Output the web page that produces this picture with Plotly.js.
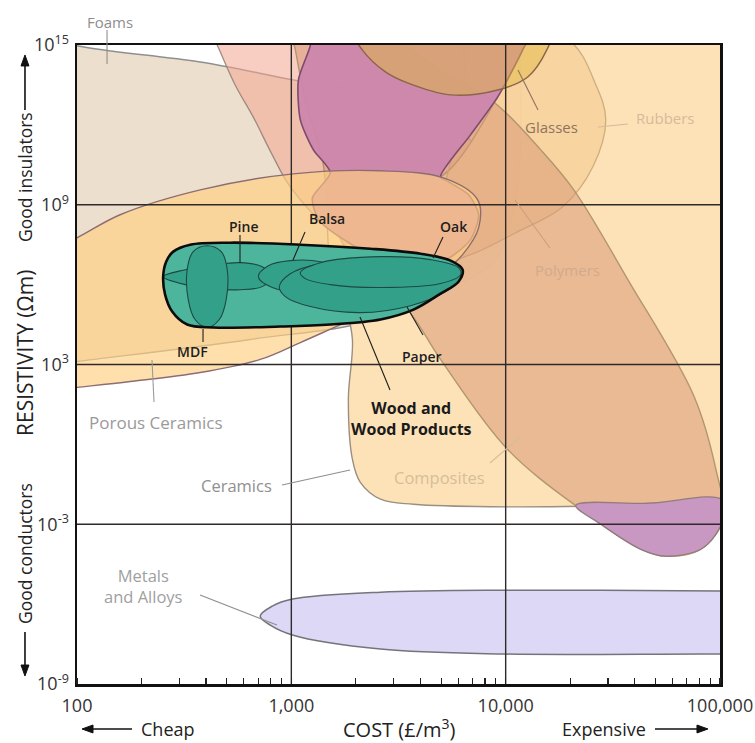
<!DOCTYPE html>
<html><head><meta charset="utf-8">
<script src="https://cdn.plot.ly/plotly-3.0.1.min.js"></script>
<style>html,body{margin:0;padding:0;background:#fff}#chart{width:755px;height:743px}</style>
</head><body><div id="chart"></div>
<script>
// ---- axis ticks ----
const xTickVals = [100, 1000, 10000, 100000];
const xTickText = ['100', '1,000', '10,000', '100,000'];
const yTickVals = [1e-9, 1e-3, 1e3, 1e9, 1e15];
const yTickText = ['10<sup>-9</sup>', '10<sup>-3</sup>', '10<sup>3</sup>', '10<sup>9</sup>', '10<sup>15</sup>'];
const xGridVals = [1000, 10000];
const yGridVals = [1e-3, 1e3, 1e9];

// ---- material envelopes: outline points as log10(cost) and log10(resistivity) ----
const foamsLogCost = [1.827, 2.005, 2.575, 3.009, 3.509, 3.804, 3.930, 3.963, 3.836, 3.416, 2.808, 2.000, 1.827, 1.734];
const foamsLogRes  = [15.375, 14.96, 14.36, 13.69, 12.94, 11.70, 9.94, 8.175, 6.64, 4.76, 3.94, 3.11, 2.925, 9.19];

const pinkLogCost = [2.598, 2.654, 2.738, 2.822, 2.911, 2.995, 3.196, 3.463, 3.743, 3.953, 4.047, 4.070, 4.047, 3.977];
const pinkLogRes  = [15.94, 15.0, 13.5, 12.3, 10.875, 9.675, 7.95, 6.64, 6.0, 6.94, 9.19, 11.81, 15.19, 15.94];

const ceramicsLogCost = [4.093, 4.070, 3.963, 3.696, 3.509, 3.206, 3.173, 3.182, 3.252, 3.285, 3.266, 3.285, 3.322, 3.416, 3.570, 4.350, 5.005, 5.192, 5.192];
const ceramicsLogRes  = [15.94, 14.81, 13.05, 10.05, 9.94, 9.56, 8.625, 6.94, 5.25, 3.94, 1.69, -0.56, -1.425, -2.06, -2.25, -2.325, -2.06, -2.06, 15.94];

const rubbersLogCost = [3.836, 4.290, 4.421, 4.467, 4.407, 4.266, 4.047, 3.836, 3.696, 3.659, 3.734, 3.813];
const rubbersLogRes  = [15.56, 15.19, 13.5, 12.19, 10.425, 8.925, 7.95, 7.125, 6.86, 7.875, 10.31, 12.94];

const polymersLogCost = [2.995, 3.463, 3.696, 3.944, 4.164, 4.318, 4.570, 4.879, 4.981, 5.014, 4.911, 4.748, 4.631, 4.350, 4.009, 3.696, 3.542, 3.322, 3.182, 3.145, 3.065, 3.019];
const polymersLogRes  = [15.94, 15.26, 14.06, 12.86, 11.06, 9.56, 6.19, 1.8, -0.94, -2.81, -3.94, -4.2, -3.94, -2.44, -0.19, 3.19, 5.06, 6.56, 8.625, 10.69, 12.94, 14.81];

const polyLowLogCost = [4.327, 4.678, 5.005, 5.019, 4.981, 4.911, 4.748, 4.631, 4.444];
const polyLowLogRes  = [-2.29, -2.21, -2.06, -2.625, -3.375, -3.94, -4.2, -3.94, -3.0];

const purpleLogCost = [3.089, 3.089, 3.033, 3.042, 3.103, 3.182, 3.098, 3.126, 3.196, 3.369, 3.509, 3.720, 3.836, 3.874, 3.827, 3.734, 3.696, 3.836, 3.963, 4.079, 4.117];
const purpleLogRes  = [15.56, 15.0, 13.69, 12.19, 11.06, 10.2, 9.26, 8.44, 7.95, 7.125, 6.86, 6.94, 7.69, 8.625, 9.375, 9.86, 10.05, 11.625, 13.05, 14.81, 15.56];

const glassesLogCost = [3.285, 3.332, 3.439, 3.542, 3.743, 3.963, 4.103, 4.187, 4.210, 4.070, 3.743, 3.416];
const glassesLogRes  = [15.56, 14.81, 13.99, 13.575, 13.125, 13.31, 13.8, 14.74, 15.375, 16.31, 16.69, 16.31];

const porousLogCost = [1.827, 2.0, 2.201, 2.575, 3.009, 3.416, 3.710, 3.869, 3.874, 3.799, 3.696, 3.509, 3.262, 3.042, 2.855, 2.575, 2.248, 2.0, 1.827];
const porousLogRes  = [7.125, 7.76, 8.625, 9.56, 10.16, 10.275, 10.01, 9.19, 8.14, 7.125, 6.375, 5.44, 4.61, 3.825, 3.19, 2.70, 2.36, 2.14, 1.99];

const metalsLogCost = [2.855, 2.911, 3.005, 3.416, 4.0, 5.005, 5.192, 5.192, 5.005, 4.0, 3.416, 3.005, 2.902];
const metalsLogRes  = [-6.45, -6.075, -5.81, -5.55, -5.475, -5.51, -5.51, -7.91, -7.875, -7.875, -7.69, -7.16, -6.79];

const woodLogCost = [2.402, 2.416, 2.449, 2.528, 2.715, 3.042, 3.369, 3.603, 3.743, 3.799, 3.780, 3.696, 3.570, 3.416, 3.182, 2.949, 2.636, 2.514, 2.444, 2.411];
const woodLogRes  = [6.3, 6.86, 7.24, 7.5, 7.575, 7.5, 7.35, 7.16, 6.9, 6.56, 6.11, 5.66, 5.06, 4.69, 4.5, 4.425, 4.39, 4.5, 4.99, 5.625];

const pineLogCost = [2.402, 2.505, 2.645, 2.762, 2.864, 2.911, 2.864, 2.762, 2.621, 2.505];
const pineLogRes  = [6.3, 6.56, 6.75, 6.825, 6.675, 6.3, 5.925, 5.81, 5.85, 6.0];

const balsaLogCost = [2.846, 2.893, 2.995, 3.136, 3.229, 3.182, 3.042, 2.911];
const balsaLogRes  = [6.3, 6.71, 6.9, 6.86, 6.56, 6.0, 5.74, 5.89];

const mdfLogCost = [2.607, 2.673, 2.701, 2.696, 2.664, 2.607, 2.551, 2.519, 2.514, 2.542];
const mdfLogRes  = [7.46, 7.24, 6.56, 5.44, 4.69, 4.39, 4.69, 5.44, 6.56, 7.24];

const paperLogCost = [2.944, 2.995, 3.136, 3.369, 3.603, 3.766, 3.790, 3.720, 3.556, 3.322, 3.089, 2.972];
const paperLogRes  = [5.925, 6.41, 6.79, 6.94, 6.86, 6.56, 6.26, 5.74, 5.21, 4.95, 5.175, 5.55];

const oakLogCost = [3.042, 3.136, 3.416, 3.650, 3.780, 3.790, 3.696, 3.416, 3.182, 3.065];
const oakLogRes  = [6.45, 6.825, 7.05, 6.94, 6.64, 6.375, 6.04, 5.89, 6.0, 6.225];

// ---- helpers ----
const FONT = '"Open Sans", "DejaVu Sans", sans-serif';
function region(lc, lr, fill, line, width, smooth) {
  const x = lc.map(u => Math.pow(10, u));
  const y = lr.map(v => Math.pow(10, v));
  x.push(x[0]); y.push(y[0]);
  return {type: 'scatter', mode: 'lines', x: x, y: y,
    fill: fill ? 'toself' : 'none', fillcolor: fill || 'rgba(0,0,0,0)',
    line: {color: line, width: width, shape: 'spline', smoothing: smooth || 1},
    hoverinfo: 'skip', showlegend: false};
}

const traces = [
  region(foamsLogCost, foamsLogRes, '#eddfce', '#8f8f8f', 1.4),
  region(pinkLogCost, pinkLogRes, 'rgba(242,165,145,0.55)', 'rgba(150,130,120,0.9)', 1.3),
  region(ceramicsLogCost, ceramicsLogRes, 'rgba(253,224,180,0.95)', '#9a8f80', 1.4),
  region(rubbersLogCost, rubbersLogRes, 'rgba(240,180,110,0.3)', 'rgba(200,168,120,0.9)', 1.3),
  region(polymersLogCost, polymersLogRes, 'rgba(215,150,115,0.52)', 'rgba(175,148,108,0.95)', 1.4),
  region(polyLowLogCost, polyLowLogRes, '#c898c2', 'rgba(140,120,120,0.9)', 1.3),
  region(purpleLogCost, purpleLogRes, 'rgba(204,134,172,0.96)', '#7e4b6c', 1.6, 0.7),
  region(glassesLogCost, glassesLogRes, 'rgba(225,185,70,0.5)', '#8a6548', 1.4),
  region(porousLogCost, porousLogRes, 'rgba(255,208,130,0.66)', '#8d6d72', 1.4),
  region(metalsLogCost, metalsLogRes, '#dcd8f6', '#74747c', 1.5)
];
// grid lines drawn through the axis scales
xGridVals.forEach(g => traces.push({type: 'scatter', mode: 'lines', x: [g, g], y: [1e-10, 1e16],
  line: {color: '#2f2a28', width: 1.4}, hoverinfo: 'skip', showlegend: false}));
yGridVals.forEach(g => traces.push({type: 'scatter', mode: 'lines', x: [50, 200000], y: [g, g],
  line: {color: '#2f2a28', width: 1.4}, hoverinfo: 'skip', showlegend: false}));
// wood family on top
traces.push(region(woodLogCost, woodLogRes, '#4cb59c', '#111', 0));
traces.push(region(pineLogCost, pineLogRes, '#33a08a', '#1d4a42', 1.1));
traces.push(region(balsaLogCost, balsaLogRes, '#33a08a', '#1d4a42', 1.1));
traces.push(region(mdfLogCost, mdfLogRes, '#33a08a', '#1d4a42', 1.1));
traces.push(region(paperLogCost, paperLogRes, '#33a08a', '#1d4a42', 1.1));
traces.push(region(oakLogCost, oakLogRes, '#33a08a', '#1d4a42', 1.1));
traces.push(region(woodLogCost, woodLogRes, null, '#0c0c0c', 2.6));

// ---- labels (paper coordinates) ----
function lab(text, x, y, color, size, weight) {
  return {text: text, x: x, y: y, xref: 'paper', yref: 'paper', showarrow: false,
    xanchor: 'center', yanchor: 'middle',
    font: {family: FONT, size: size, color: color, weight: weight || 400}};
}
const annotations = [
  lab('Foams', 0.0513, 1.036, '#8e8e8e', 15),
  lab('Glasses', 0.7387, 0.8717, '#8f735e', 15),
  lab('Rubbers', 0.9145, 0.8858, '#d6ba98', 15),
  lab('Polymers', 0.7636, 0.6479, '#d3aa8a', 15),
  lab('Pine', 0.2582, 0.7167, '#1e1e1e', 14, 600),
  lab('Balsa', 0.3888, 0.7277, '#1e1e1e', 14, 600),
  lab('Oak', 0.5848, 0.7152, '#1e1e1e', 14, 600),
  lab('MDF', 0.1804, 0.5211, '#1e1e1e', 14, 600),
  lab('Paper', 0.5365, 0.5133, '#1e1e1e', 14, 600),
  lab('Wood and<br>Wood Products', 0.5195, 0.4155, '#1a1a1a', 16, 700),
  lab('Composites', 0.5645, 0.3224, '#d6be98', 16.5),
  lab('Ceramics', 0.2488, 0.3114, '#8f8f8f', 16.5),
  lab('Porous Ceramics', 0.1229, 0.4100, '#9a9a9a', 17),
  lab('Metals<br>and Alloys', 0.1035, 0.1534, '#a0a0a0', 16.5),
  // axis titles
  Object.assign(lab('RESISTIVITY (Ωm)', -0.0809, 0.5180, '#222', 21), {textangle: -90}),
  Object.assign(lab('Good insulators', -0.0809, 0.7934, '#222', 17.5), {textangle: -90}),
  Object.assign(lab('Good conductors', -0.0809, 0.2050, '#222', 17.5), {textangle: -90}),
  lab('COST (£/m<sup>3</sup>)', 0.5023, -0.0689, '#222', 20),
  lab('Cheap', 0.1415, -0.0704, '#222', 18),
  lab('Expensive', 0.8196, -0.0704, '#222', 18)
];

function leader(x0, y0, x1, y1, color, w) {
  return {type: 'line', xref: 'paper', yref: 'paper', x0: x0, y0: y0, x1: x1, y1: y1,
    line: {color: color, width: w || 1.1}, layer: 'above'};
}
function head(path) {
  return {type: 'path', xref: 'paper', yref: 'paper', path: path,
    fillcolor: '#111', line: {color: '#111', width: 1}, layer: 'above'};
}
const shapes = [
  leader(0.0467, 1.0235, 0.0467, 0.9703, '#8e8e8e'),
  leader(0.7170, 0.8983, 0.6858, 0.9609, '#8f735e'),
  leader(0.8569, 0.8764, 0.8103, 0.8717, '#d6ba98'),
  leader(0.7356, 0.6823, 0.6812, 0.7574, '#c9a080'),
  leader(0.2535, 0.7027, 0.2535, 0.6588, '#1e1e1e'),
  leader(0.3546, 0.7074, 0.3359, 0.6635, '#1e1e1e'),
  leader(0.5692, 0.6995, 0.5537, 0.6667, '#1e1e1e'),
  leader(0.1960, 0.5556, 0.1960, 0.5352, '#1e1e1e'),
  leader(0.5132, 0.5900, 0.5381, 0.5462, '#1e1e1e'),
  leader(0.4401, 0.5743, 0.4868, 0.4601, '#1e1e1e'),
  leader(0.6423, 0.3459, 0.6890, 0.3865, '#d6be98'),
  leader(0.3188, 0.3114, 0.4246, 0.3349, '#8f8f8f'),
  leader(0.1166, 0.5070, 0.1198, 0.4413, '#9a9a9a'),
  leader(0.1913, 0.1393, 0.3110, 0.0923, '#8f8f8f'),
  // axis direction arrows
  leader(-0.0809, 0.8983, -0.0809, 0.9700, '#111', 1.6),
  head('M -0.0809 0.9844 L -0.0871 0.9672 L -0.0747 0.9672 Z'),
  leader(-0.0809, 0.0814, -0.0809, 0.0270, '#111', 1.6),
  head('M -0.0809 0.0125 L -0.0871 0.0297 L -0.0747 0.0297 Z'),
  leader(0.0855, -0.0704, 0.0220, -0.0704, '#111', 1.6),
  head('M 0.0078 -0.0704 L 0.0249 -0.0642 L 0.0249 -0.0766 Z'),
  leader(0.8989, -0.0704, 0.9670, -0.0704, '#111', 1.6),
  head('M 0.9813 -0.0704 L 0.9642 -0.0642 L 0.9642 -0.0766 Z')
];

const layout = {
  width: 755, height: 743,
  margin: {l: 77, r: 35, t: 45, b: 59, pad: 0},
  paper_bgcolor: '#fff', plot_bgcolor: '#fff',
  showlegend: false,
  xaxis: {type: 'log', range: [2, 5], tickmode: 'array', tickvals: xTickVals, ticktext: xTickText,
    ticks: '', showgrid: false, zeroline: false, showline: true, mirror: true, linecolor: '#111', linewidth: 2.5,
    tickfont: {family: FONT, size: 18, color: '#333'}, ticklabelstandoff: 4,
    minor: {dtick: 'D1', ticks: 'inside', ticklen: 6, tickwidth: 1.2, tickcolor: '#222', showgrid: false}},
  yaxis: {type: 'log', range: [-9, 15], tickmode: 'array', tickvals: yTickVals, ticktext: yTickText,
    ticks: '', showgrid: false, zeroline: false, showline: true, mirror: true, linecolor: '#111', linewidth: 2.5,
    tickfont: {family: FONT, size: 18, color: '#333'}, ticklabelstandoff: 2},
  annotations: annotations,
  shapes: shapes
};
Plotly.newPlot('chart', traces, layout, {displayModeBar: false, staticPlot: true});
</script>
</body></html>
